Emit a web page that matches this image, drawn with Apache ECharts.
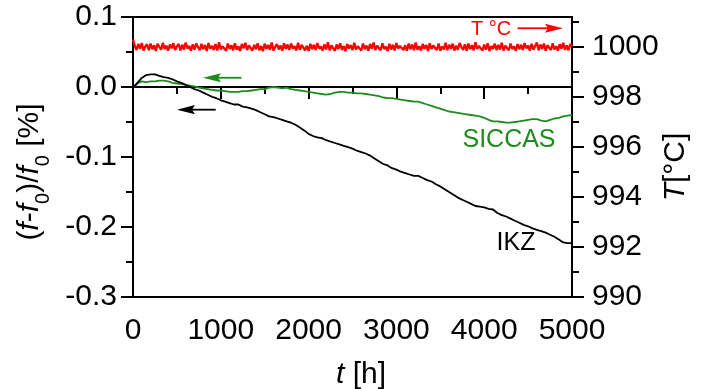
<!DOCTYPE html>
<html>
<head>
<meta charset="utf-8">
<script src="https://cdn.jsdelivr.net/npm/echarts@6/dist/echarts.min.js"></script>
<style>html,body{margin:0;padding:0;background:#fff}#c{width:713px;height:389px}</style>
</head>
<body>
<div id="c"></div>
<script>
// ---- data ----
const tF = [0,50,100,150,200,250,300,350,400,450,500,550,600,650,700,750,800,850,900,950,
1000,1050,1100,1150,1200,1250,1300,1350,1400,1450,1500,1550,1600,1650,1700,1750,1800,1850,1900,1950,
2000,2050,2100,2150,2200,2250,2300,2350,2400,2450,2500,2550,2600,2650,2700,2750,2800,2850,2900,2950,
3000,3050,3100,3150,3200,3250,3300,3350,3400,3450,3500,3550,3600,3650,3700,3750,3800,3850,3900,3950,
4000,4050,4100,4150,4200,4250,4300,4350,4400,4450,4500,4550,4600,4650,4700,4750,4800,4850,4900,4950,5000];

const ikzValues = [-0.001,0.006,0.013,0.017,0.018,0.018,0.016,0.014,0.013,0.011,
0.008,0.006,0.003,0.000,-0.003,-0.005,-0.008,-0.011,-0.014,-0.016,
-0.019,-0.021,-0.023,-0.025,-0.025,-0.028,-0.029,-0.031,-0.033,-0.036,
-0.039,-0.042,-0.043,-0.045,-0.047,-0.049,-0.051,-0.054,-0.058,-0.062,
-0.067,-0.070,-0.072,-0.073,-0.076,-0.078,-0.080,-0.082,-0.084,-0.086,
-0.088,-0.091,-0.093,-0.095,-0.098,-0.102,-0.106,-0.110,-0.112,-0.116,
-0.118,-0.121,-0.123,-0.125,-0.127,-0.127,-0.130,-0.133,-0.135,-0.139,
-0.142,-0.146,-0.150,-0.154,-0.158,-0.161,-0.164,-0.167,-0.170,-0.171,
-0.172,-0.174,-0.175,-0.180,-0.183,-0.185,-0.188,-0.191,-0.194,-0.197,
-0.199,-0.202,-0.204,-0.206,-0.208,-0.211,-0.214,-0.218,-0.222,-0.223,-0.223];

const siccasValues = [-0.001,0.005,0.008,0.007,0.008,0.008,0.009,0.009,0.008,0.006,
0.005,0.004,0.003,0.002,0.001,-0.001,-0.002,-0.003,-0.004,-0.005,
-0.005,-0.006,-0.007,-0.007,-0.007,-0.006,-0.006,-0.005,-0.004,-0.003,
-0.003,-0.001,0.000,-0.001,-0.002,-0.001,-0.003,-0.004,-0.005,-0.006,
-0.007,-0.008,-0.009,-0.010,-0.011,-0.010,-0.008,-0.007,-0.007,-0.008,
-0.008,-0.009,-0.009,-0.010,-0.011,-0.012,-0.013,-0.015,-0.016,-0.016,
-0.017,-0.018,-0.019,-0.020,-0.021,-0.021,-0.023,-0.025,-0.027,-0.029,
-0.031,-0.033,-0.035,-0.036,-0.037,-0.038,-0.039,-0.040,-0.041,-0.042,
-0.044,-0.047,-0.049,-0.049,-0.050,-0.051,-0.051,-0.050,-0.049,-0.048,
-0.047,-0.046,-0.046,-0.048,-0.049,-0.047,-0.045,-0.044,-0.042,-0.041,-0.040];

const tT = [0,20,40,60,80,100,120,140,160,180,
200,220,240,260,280,300,320,340,360,380,
400,420,440,460,480,500,520,540,560,580,
600,620,640,660,680,700,720,740,760,780,
800,820,840,860,880,900,920,940,960,980,
1000,1020,1040,1060,1080,1100,1120,1140,1160,1180,
1200,1220,1240,1260,1280,1300,1320,1340,1360,1380,
1400,1420,1440,1460,1480,1500,1520,1540,1560,1580,
1600,1620,1640,1660,1680,1700,1720,1740,1760,1780,
1800,1820,1840,1860,1880,1900,1920,1940,1960,1980,
2000,2020,2040,2060,2080,2100,2120,2140,2160,2180,
2200,2220,2240,2260,2280,2300,2320,2340,2360,2380,
2400,2420,2440,2460,2480,2500,2520,2540,2560,2580,
2600,2620,2640,2660,2680,2700,2720,2740,2760,2780,
2800,2820,2840,2860,2880,2900,2920,2940,2960,2980,
3000,3020,3040,3060,3080,3100,3120,3140,3160,3180,
3200,3220,3240,3260,3280,3300,3320,3340,3360,3380,
3400,3420,3440,3460,3480,3500,3520,3540,3560,3580,
3600,3620,3640,3660,3680,3700,3720,3740,3760,3780,
3800,3820,3840,3860,3880,3900,3920,3940,3960,3980,
4000,4020,4040,4060,4080,4100,4120,4140,4160,4180,
4200,4220,4240,4260,4280,4300,4320,4340,4360,4380,
4400,4420,4440,4460,4480,4500,4520,4540,4560,4580,
4600,4620,4640,4660,4680,4700,4720,4740,4760,4780,
4800,4820,4840,4860,4880,4900,4920,4940,4960,4980,
5000];

const tempValues = [1000.30,1000.05,999.88,1000.12,999.93,1000.16,999.86,1000.02,1000.11,999.87,
1000.14,999.91,1000.07,999.84,1000.13,1000.01,999.89,1000.17,999.92,1000.06,
999.85,1000.10,999.95,1000.15,999.88,1000.03,1000.12,999.86,1000.09,999.90,
1000.18,999.94,1000.04,999.85,1000.11,999.89,1000.14,1000.00,999.87,1000.13,
999.91,1000.08,999.84,1000.16,999.93,1000.05,999.88,1000.12,999.86,1000.19,
999.90,1000.03,1000.10,999.85,1000.14,999.92,1000.07,999.87,1000.15,999.89,
1000.02,999.84,1000.12,999.95,1000.17,999.88,1000.06,1000.11,999.86,1000.09,
999.91,1000.15,999.87,1000.04,999.83,1000.13,999.93,1000.08,999.89,1000.18,
999.86,1000.01,1000.12,999.90,1000.06,999.85,1000.15,999.92,1000.10,999.88,
1000.14,999.94,1000.03,999.86,1000.17,999.89,1000.08,1000.12,999.87,1000.05,
999.84,1000.13,999.91,1000.09,999.88,1000.16,999.93,1000.02,999.86,1000.11,
999.90,1000.19,999.87,1000.06,1000.13,999.85,1000.10,999.92,1000.15,999.88,
1000.04,999.83,1000.12,999.94,1000.08,999.87,1000.17,999.90,1000.03,1000.11,
999.86,1000.14,999.91,1000.06,999.85,1000.12,999.93,1000.18,999.88,1000.05,
1000.10,999.87,1000.15,999.92,1000.01,999.84,1000.13,999.90,1000.09,999.86,
1000.16,999.94,1000.04,1000.12,999.88,1000.07,999.85,1000.14,999.91,1000.10,
999.87,1000.18,999.89,1000.03,999.86,1000.12,999.93,1000.08,999.84,1000.15,
999.92,1000.06,1000.11,999.88,1000.14,999.85,1000.02,999.90,1000.17,999.87,
1000.09,999.93,1000.13,999.86,1000.05,999.89,1000.16,1000.01,999.88,1000.11,
999.85,1000.14,999.91,1000.07,999.87,1000.19,999.92,1000.04,1000.12,999.86,
1000.10,999.89,1000.15,999.84,1000.03,999.93,1000.13,999.88,1000.08,999.90,
1000.17,999.86,1000.05,1000.11,999.87,1000.14,999.92,1000.02,999.85,1000.12,
999.91,1000.09,999.88,1000.16,999.94,1000.06,999.86,1000.13,999.89,1000.04,
1000.18,999.87,1000.10,999.92,1000.14,999.85,1000.07,1000.12,999.88,1000.15,
999.90,1000.03,999.86,1000.11,999.93,1000.17,999.89,1000.06,999.87,1000.12,
1000.02];

const xTicks = [0,1000,2000,3000,4000,5000];
const rightMajor = [990,992,994,996,998,1000];
const rightMinor = [991,993,995,997,999,1001];

// ---- chart ----
const FONT = 'Liberation Sans, Arial, sans-serif';
const GREEN = '#1f8b1f';
const RED = '#ff0000';
const zip = (a, b) => a.map((v, i) => [v, b[i]]);

const chart = echarts.init(document.getElementById('c'), null, {renderer: 'canvas'});
const axisLineStyle = {color: '#000', width: 2};

// annotation arrows (tail -> tip), in data coordinates
const arrows = [
  {axis: 1, from: [4381, 1000.75], to: [4897, 1000.75], color: RED},
  {axis: 0, from: [1235, 0.0132], to: [797, 0.0132], color: GREEN},
  {axis: 0, from: [942, -0.0324], to: [501, -0.0324], color: '#000'}
];

const texts = [
  {type: 'text', x: 30, y: 172, rotation: Math.PI / 2,
    style: {
      text: '{n|(}{i|f}{n|-}{i|f}{s|0}{n|)/}{i|f}{s|0}{n| [%]}',
      align: 'center', verticalAlign: 'middle', fill: '#000',
      rich: {
        n: {fontSize: 30, fontFamily: FONT, lineHeight: 46, verticalAlign: 'middle', fill: '#000'},
        i: {fontSize: 30, fontFamily: FONT, fontStyle: 'italic', lineHeight: 46, verticalAlign: 'middle', fill: '#000'},
        s: {fontSize: 20, fontFamily: FONT, lineHeight: 14, verticalAlign: 'bottom', fill: '#000'}
      }
    }},
  {type: 'text', x: 676, y: 167, rotation: Math.PI / 2,
    style: {
      text: '{i|T}{n|[°C]}', align: 'center', verticalAlign: 'middle', fill: '#000',
      rich: {
        n: {fontSize: 30, fontFamily: FONT, fill: '#000'},
        i: {fontSize: 30, fontFamily: FONT, fontStyle: 'italic', fill: '#000'}
      }
    }},
  {type: 'text', x: 361, y: 375,
    style: {
      text: '{i|t}{n| [h]}', align: 'center', verticalAlign: 'middle', fill: '#000',
      rich: {
        n: {fontSize: 30, fontFamily: FONT, fill: '#000'},
        i: {fontSize: 30, fontFamily: FONT, fontStyle: 'italic', fill: '#000'}
      }
    }},
  {type: 'text', x: 491, y: 29, style: {text: 'T °C', fontSize: 20, fontFamily: FONT, fill: RED, align: 'center', verticalAlign: 'middle'}},
  {type: 'text', x: 509, y: 140, style: {text: 'SICCAS', fontSize: 25, fontFamily: FONT, fill: GREEN, align: 'center', verticalAlign: 'middle'}},
  {type: 'text', x: 516, y: 243, style: {text: 'IKZ', fontSize: 25, fontFamily: FONT, fill: '#000', align: 'center', verticalAlign: 'middle'}}
];

chart.setOption({
  animation: false,
  backgroundColor: '#fff',
  grid: {left: 133, right: 141, top: 17, bottom: 92, show: true, borderColor: '#000', borderWidth: 2, backgroundColor: 'transparent'},
  xAxis: {
    type: 'value', min: xTicks[0], max: xTicks[xTicks.length - 1], interval: 1000,
    axisLine: {show: true, lineStyle: axisLineStyle},
    axisTick: {show: true, length: 12, lineStyle: {color: '#000', width: 2}},
    minorTick: {show: true, splitNumber: 2, length: 7, lineStyle: {color: '#000', width: 2}},
    axisLabel: {fontSize: 30, fontFamily: FONT, color: '#000', margin: 19, formatter: v => String(v)},
    splitLine: {show: false}
  },
  yAxis: [
    {
      type: 'value', min: -0.3, max: 0.1, interval: 0.1, position: 'left',
      axisLine: {show: true, lineStyle: axisLineStyle},
      axisTick: {show: true, length: 12, lineStyle: {color: '#000', width: 2}},
      minorTick: {show: true, splitNumber: 2, length: 7, lineStyle: {color: '#000', width: 2}},
      axisLabel: {fontSize: 30, fontFamily: FONT, color: '#000', margin: 16,
        formatter: v => (Math.abs(v) < 1e-9 ? '0.0' : v.toFixed(1))},
      splitLine: {show: false}
    },
    {
      type: 'value', min: 990, max: 1001.2, position: 'right',
      axisLine: {show: true, onZero: false, lineStyle: axisLineStyle},
      axisTick: {show: true, length: 12, customValues: rightMajor, lineStyle: {color: '#000', width: 2}},
      axisLabel: {fontSize: 30, fontFamily: FONT, color: '#000', margin: 20, customValues: rightMajor, formatter: v => String(v)},
      splitLine: {show: false}
    },
    {
      type: 'value', min: 990, max: 1001.2, position: 'right',
      axisLine: {show: false},
      axisTick: {show: true, length: 7, customValues: rightMinor, lineStyle: {color: '#000', width: 2}},
      axisLabel: {show: false},
      splitLine: {show: false}
    }
  ],
  series: [
    {name: 'T', type: 'line', yAxisIndex: 1, data: zip(tT, tempValues),
      symbol: 'none', lineStyle: {color: RED, width: 2.3}, itemStyle: {color: RED}, z: 2},
    {name: 'SICCAS', type: 'line', yAxisIndex: 0, data: zip(tF, siccasValues),
      symbol: 'none', lineStyle: {color: GREEN, width: 1.8}, itemStyle: {color: GREEN}, z: 3},
    {name: 'IKZ', type: 'line', yAxisIndex: 0, data: zip(tF, ikzValues),
      symbol: 'none', lineStyle: {color: '#000', width: 1.8}, itemStyle: {color: '#000'}, z: 4}
  ],
  graphic: texts
});

// arrows: project data coordinates through the axes, then draw shaft + head
const arrowGraphics = [];
arrows.forEach(a => {
  const p1 = chart.convertToPixel({xAxisIndex: 0, yAxisIndex: a.axis}, a.from);
  const p2 = chart.convertToPixel({xAxisIndex: 0, yAxisIndex: a.axis}, a.to);
  const dx = p2[0] - p1[0], dy = p2[1] - p1[1];
  const L = Math.sqrt(dx * dx + dy * dy);
  const ux = dx / L, uy = dy / L, px = -uy, py = ux;
  const headLen = 18, halfW = 4.6, notch = 3;
  const base = [p2[0] - ux * headLen, p2[1] - uy * headLen];
  const nb = [p2[0] - ux * (headLen - notch), p2[1] - uy * (headLen - notch)];
  arrowGraphics.push({
    type: 'line', silent: true, z: 10,
    shape: {x1: p1[0], y1: p1[1], x2: nb[0], y2: nb[1]},
    style: {stroke: a.color, lineWidth: 1.8}
  });
  arrowGraphics.push({
    type: 'polygon', silent: true, z: 10,
    shape: {points: [p2, [base[0] + px * halfW, base[1] + py * halfW], nb, [base[0] - px * halfW, base[1] - py * halfW]]},
    style: {fill: a.color}
  });
});
chart.setOption({graphic: texts.concat(arrowGraphics)});
</script>
</body>
</html>
